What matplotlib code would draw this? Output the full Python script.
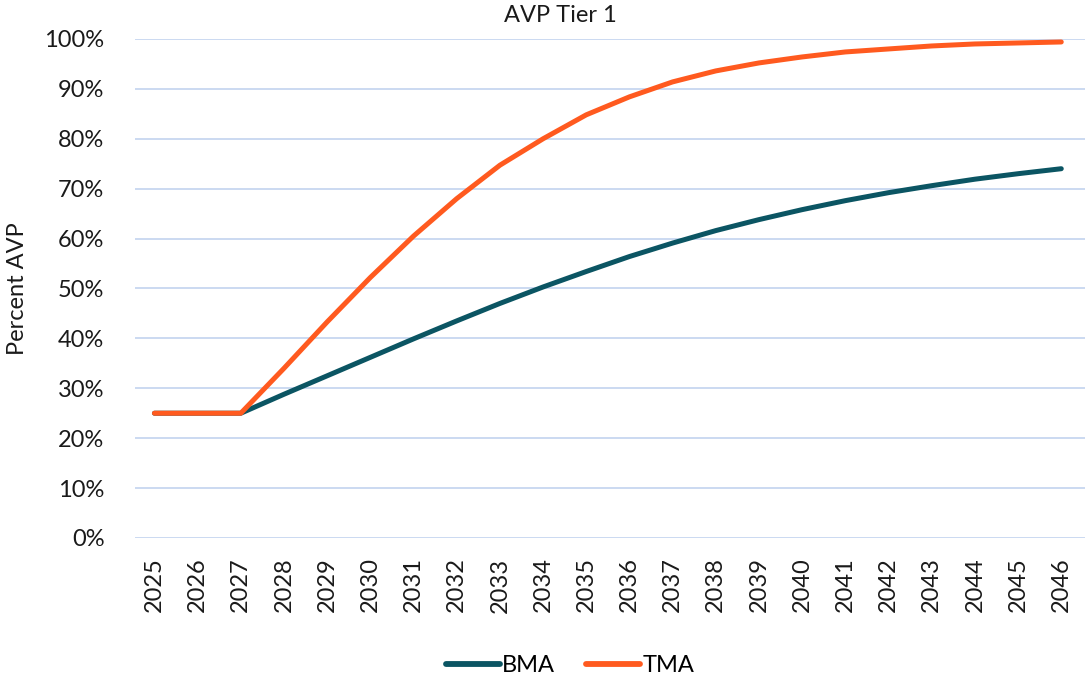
import matplotlib
matplotlib.use("Agg")
import matplotlib.pyplot as plt
from matplotlib.ticker import PercentFormatter

plt.rcParams['font.family'] = ['Lato', 'DejaVu Sans']

# data
years = list(range(2025, 2047))
bma = [25.0, 25.0, 25.0, 28.8, 32.5, 36.2, 39.9, 43.5, 47.0, 50.3, 53.4,
       56.4, 59.1, 61.6, 63.8, 65.8, 67.6, 69.2, 70.6, 71.9, 73.0, 74.0]
tma = [25.0, 25.0, 25.0, 34.0, 43.3, 52.2, 60.5, 68.0, 74.7, 80.0, 84.8,
       88.4, 91.4, 93.6, 95.2, 96.4, 97.4, 98.0, 98.6, 99.0, 99.2, 99.4]

teal = '#0b5563'
orange = '#ff5a1f'

fig = plt.figure(figsize=(10.86, 6.79), dpi=100)
ax = fig.add_axes([0.1243, 0.2077, 0.8748, 0.7349])

ax.plot(years, bma, color=teal, lw=3.6, solid_capstyle='round', label='BMA')
ax.plot(years, tma, color=orange, lw=3.6, solid_capstyle='round', label='TMA')

ax.set_xlim(2024.55, 2046.55)
ax.set_ylim(0, 100)
ax.set_yticks(range(0, 101, 10))
ax.yaxis.set_major_formatter(PercentFormatter(decimals=0))
ax.set_xticks(years)
ax.set_xticklabels([str(y) for y in years], rotation=90)

ax.grid(axis='y', color='#cbd9f1', lw=1.4)
ax.set_axisbelow(True)
for s in ax.spines.values():
    s.set_visible(False)
ax.tick_params(axis='both', length=0, labelsize=17, colors='#1a1a1a')
ax.tick_params(axis='y', pad=22)
ax.tick_params(axis='x', pad=14)

ax.set_ylabel('Percent AVP', fontsize=17, color='#1a1a1a', labelpad=12)
fig.text(560 / 1086, 1 - 16 / 679, 'AVP Tier 1', ha='center', va='center',
         fontsize=17, color='#1a1a1a')

leg = fig.legend(loc='center', bbox_to_anchor=(570 / 1086, 1 - 666 / 679), ncol=2,
                 frameon=False, fontsize=17, handlelength=2.3, handletextpad=0.1,
                 columnspacing=1.3)
for h in leg.get_lines():
    h.set_linewidth(4.2)

fig.savefig('out.png', dpi=100)
